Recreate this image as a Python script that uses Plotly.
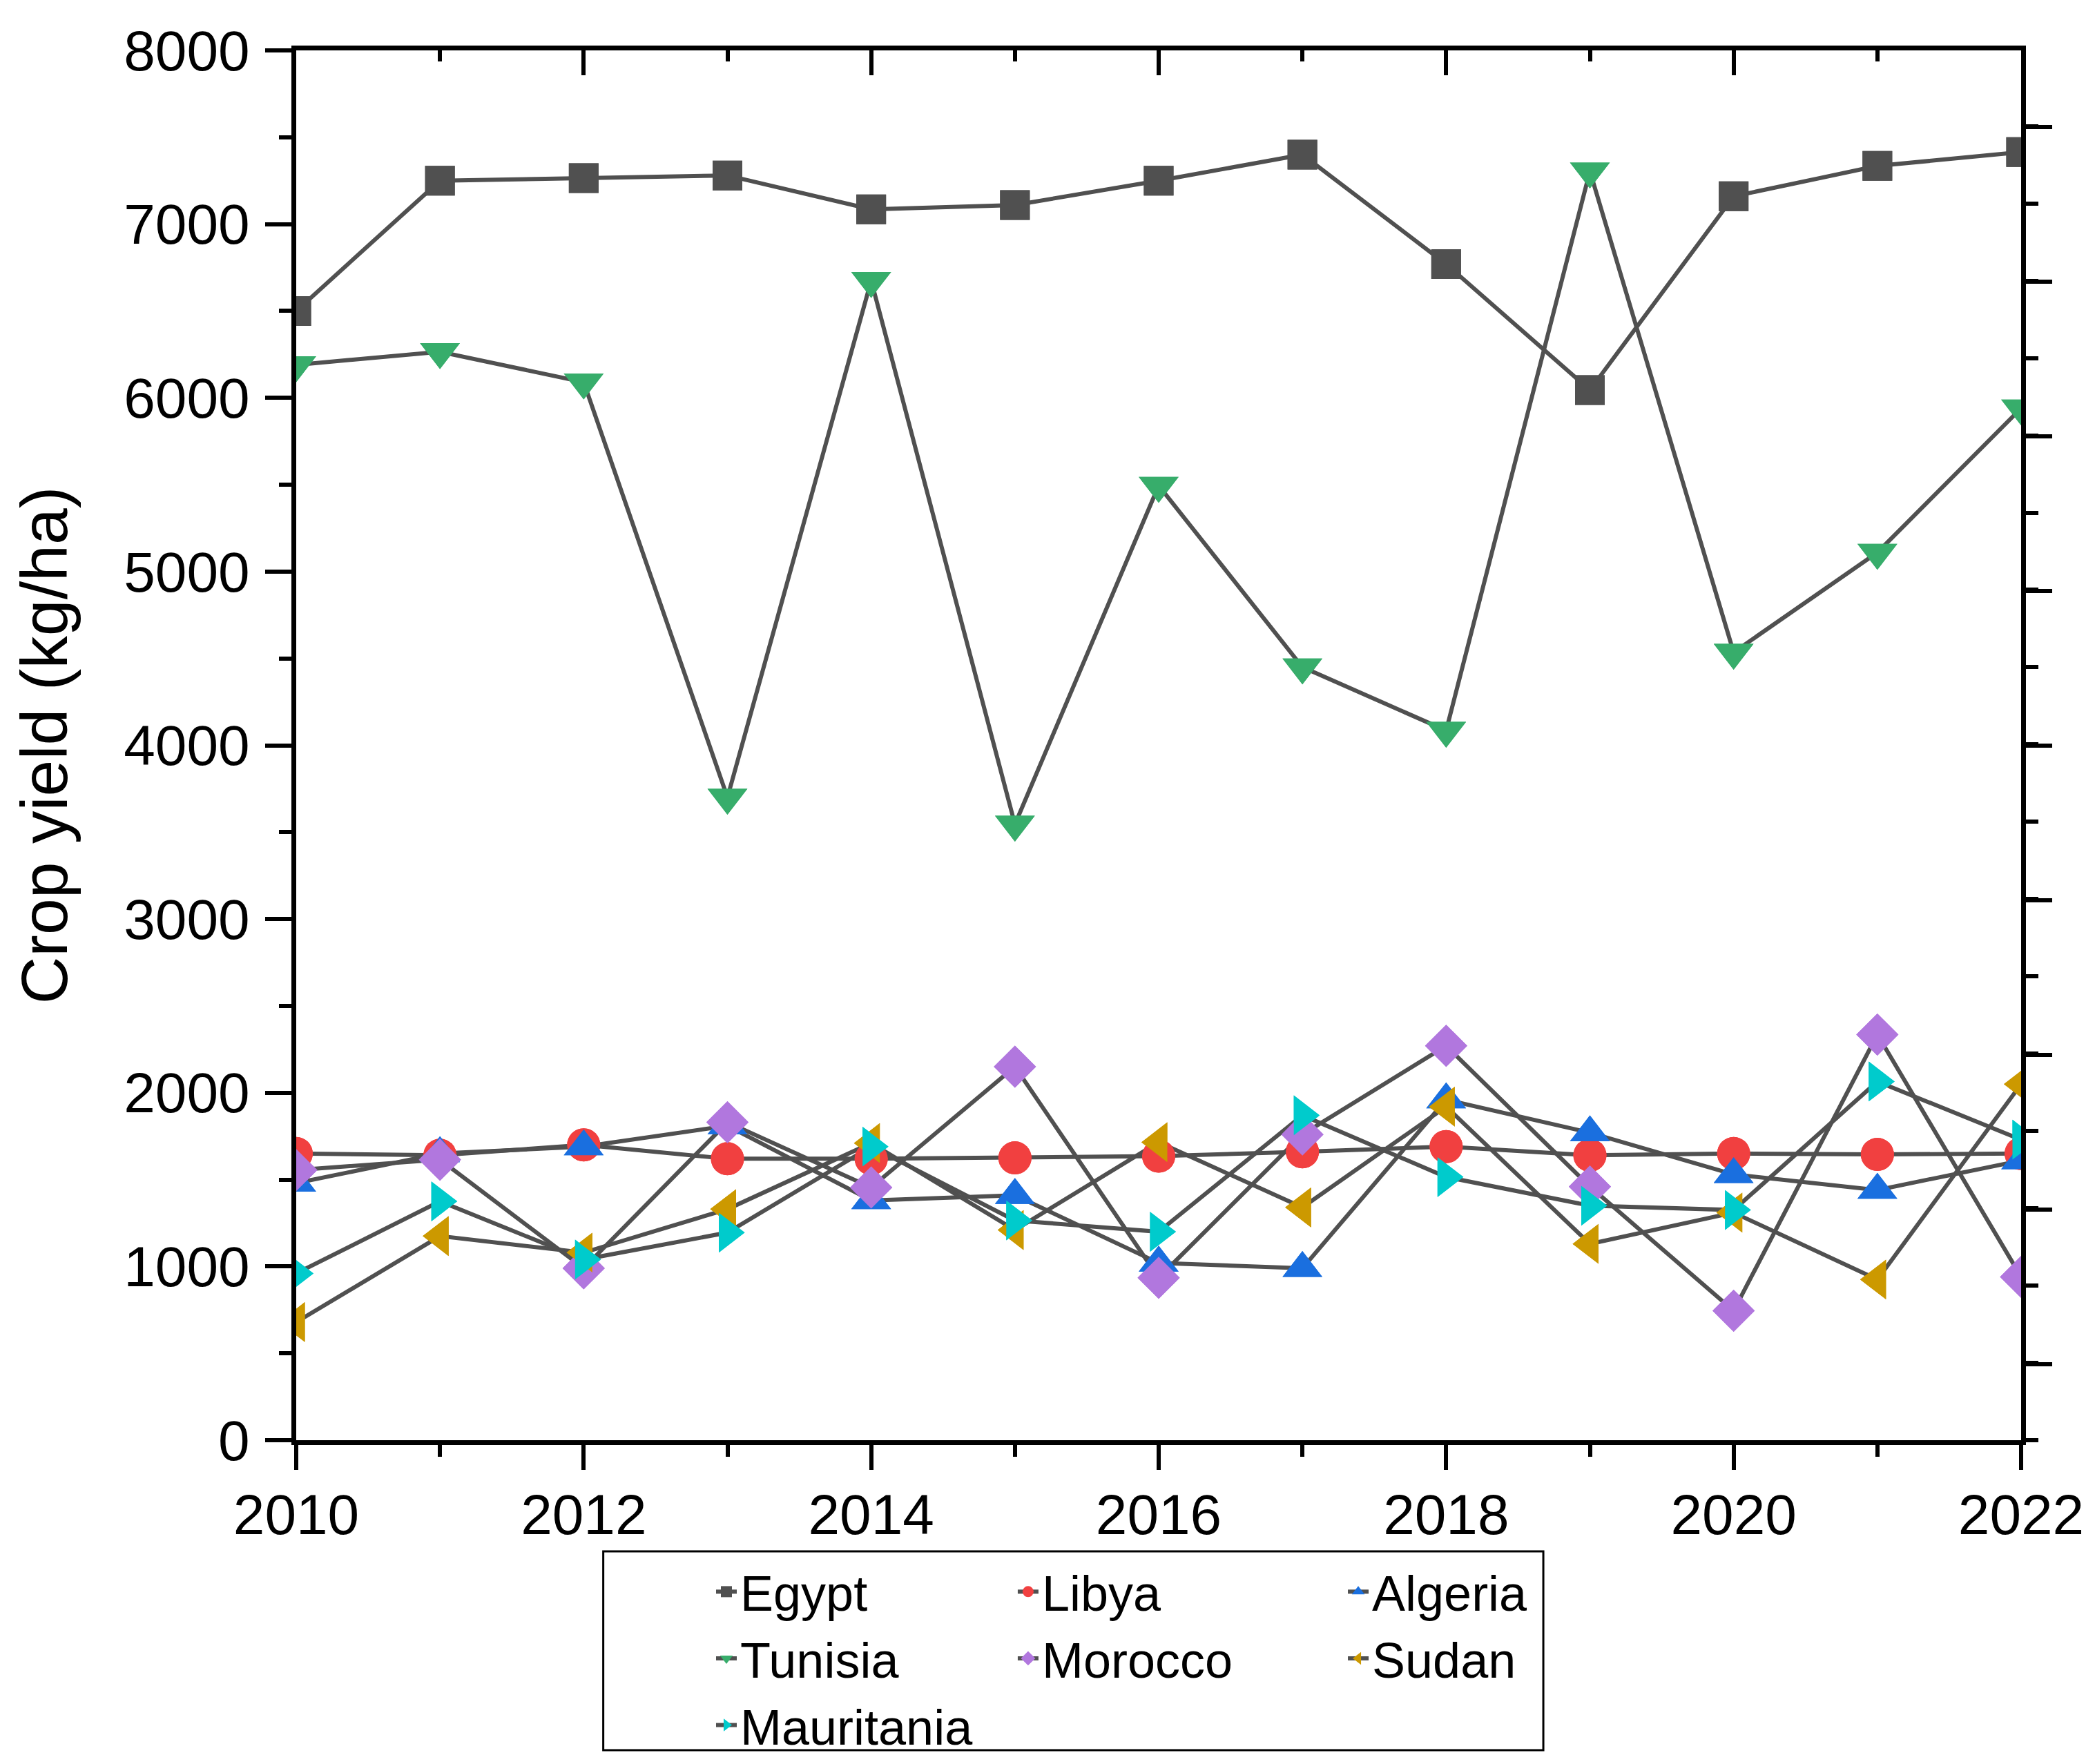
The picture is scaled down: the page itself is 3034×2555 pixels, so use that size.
import plotly.graph_objects as go

# --- datos ---
anios = list(range(2010, 2023))

egypt = [6500, 7250, 7265, 7280, 7085, 7110, 7250, 7400, 6770, 6045, 7160, 7335, 7415]
libya = [1650, 1640, 1700, 1620, 1620, 1625, 1635, 1660, 1690, 1640, 1650, 1645, 1650]
algeria = [1480, 1650, 1690, 1810, 1380, 1410, 1020, 990, 1960, 1770, 1530, 1440, 1610]
tunisia = [6190, 6265, 6090, 3700, 6675, 3545, 5495, 4450, 4085, 7305, 4535, 5110, 5940]
morocco = [1555, 1615, 990, 1830, 1455, 2150, 935, 1760, 2270, 1460, 745, 2335, 940]
sudan = [680, 1175, 1080, 1330, 1710, 1210, 1715, 1340, 1920, 1130, 1310, 925, 2050]
mauritania = [960, 1375, 1040, 1195, 1690, 1265, 1200, 1870, 1515, 1350, 1325, 2065, 1730]

FUENTE = 'Arial, Liberation Sans, sans-serif'
GRIS = '#505050'

# nombre, valores, simbolo, color, tamano, leyenda (columna)
series = [
    ('Egypt', egypt, 'square', '#505050', 43, 'legend'),
    ('Libya', libya, 'circle', '#F14040', 48, 'legend2'),
    ('Algeria', algeria, 'triangle-up', '#1A6FDF', 50, 'legend3'),
    ('Tunisia', tunisia, 'triangle-down', '#37AD6B', 50, 'legend'),
    ('Morocco', morocco, 'diamond', '#B177DE', 47, 'legend2'),
    ('Sudan', sudan, 'triangle-left', '#CC9900', 50, 'legend3'),
    ('Mauritania', mauritania, 'triangle-right', '#00CBCC', 50, 'legend'),
]

fig = go.Figure()

# lineas + marcadores (con leyenda)
for nombre, vals, simb, col, tam, ley in series:
    fig.add_trace(go.Scatter(
        x=anios, y=vals, name=nombre, mode='lines+markers',
        line=dict(color=GRIS, width=6),
        marker=dict(symbol=simb, color=col, size=tam, line=dict(width=0)),
        legend=ley,
    ))

# marcadores otra vez encima de todas las lineas
for nombre, vals, simb, col, tam, ley in series:
    fig.add_trace(go.Scatter(
        x=anios, y=vals, mode='markers', showlegend=False, hoverinfo='skip',
        marker=dict(symbol=simb, color=col, size=tam, line=dict(width=0)),
    ))

# trazas vacias para que se dibujen el eje de arriba y el de la derecha
fig.add_trace(go.Scatter(x=[None], y=[None], xaxis='x2', yaxis='y',
                         showlegend=False, hoverinfo='skip'))
fig.add_trace(go.Scatter(x=[None], y=[None], xaxis='x', yaxis='y2',
                         showlegend=False, hoverinfo='skip'))

eje = dict(showline=True, linecolor='black', linewidth=7, showgrid=False,
           zeroline=False, tickcolor='black', tickwidth=6)
leyenda = dict(xanchor='left', yanchor='top', bgcolor='rgba(0,0,0,0)',
               font=dict(size=72, family=FUENTE))

fig.update_layout(
    width=3034, height=2555,
    margin=dict(l=421, r=115, t=65, b=477, autoexpand=False),
    paper_bgcolor='white', plot_bgcolor='white',
    font=dict(family=FUENTE, color='black'),
    xaxis=dict(eje, range=[2010, 2022], tickmode='linear', tick0=2010, dtick=2,
               ticks='outside', ticklen=36, ticklabelstandoff=-5,
               minor=dict(ticks='outside', ticklen=17, tickwidth=6, dtick=1,
                          tickcolor='black', showgrid=False),
               tickfont=dict(size=82, family=FUENTE)),
    yaxis=dict(eje, range=[0, 8000], tickmode='linear', tick0=0, dtick=1000,
               ticks='outside', ticklen=38, ticklabelstandoff=6,
               minor=dict(ticks='outside', ticklen=18, tickwidth=6, dtick=500,
                          tickcolor='black', showgrid=False),
               tickfont=dict(size=82, family=FUENTE),
               title=dict(text='Crop yield (kg/ha)', font=dict(size=95, family=FUENTE),
                          standoff=52)),
    xaxis2=dict(eje, overlaying='x', side='top', anchor='y', range=[2010, 2022],
                tickmode='linear', tick0=2010, dtick=2, ticks='inside', ticklen=36,
                minor=dict(ticks='inside', ticklen=16, tickwidth=6, dtick=1,
                           tickcolor='black', showgrid=False),
                showticklabels=False),
    yaxis2=dict(eje, overlaying='y', side='right', anchor='x', range=[0, 8.99],
                tickmode='linear', tick0=0.493, dtick=1, ticks='outside', ticklen=38,
                minor=dict(ticks='outside', ticklen=18, tickwidth=6, dtick=0.5,
                           tickcolor='black', showgrid=False),
                showticklabels=False),
    legend=dict(leyenda, x=0.2414, y=-0.0825),
    legend2=dict(leyenda, x=0.4163, y=-0.0825),
    legend3=dict(leyenda, x=0.6077, y=-0.0825),
    showlegend=True,
)

# marco de la leyenda
fig.add_shape(type='rect', xref='paper', yref='paper',
              x0=0.178, x1=0.723, y0=-0.223, y1=-0.080,
              line=dict(color='black', width=3), fillcolor='rgba(0,0,0,0)')

fig.write_html("out.html")
